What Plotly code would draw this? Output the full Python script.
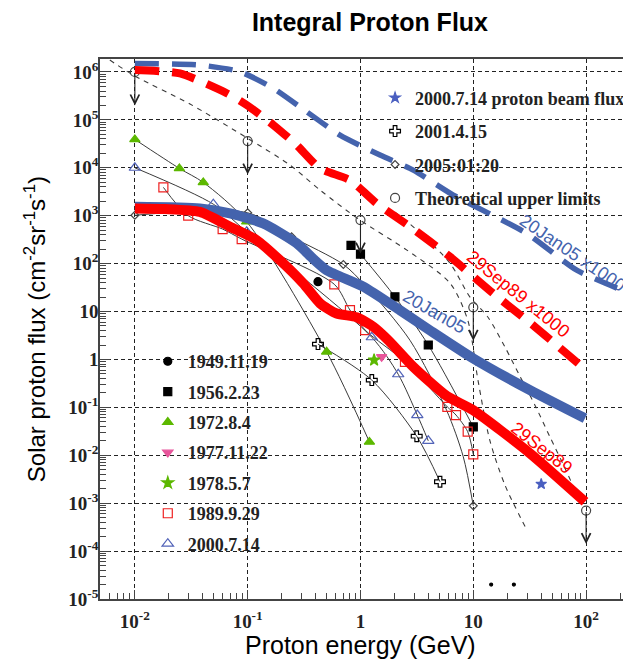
"""Integral proton flux chart rebuilt with plotly."""

import math

from plotly import graph_objects as go

# ---- data ------------------------------------------------------------------

# thick model curves
jan05_e = [0.01, 0.0377, 0.0697, 0.137, 0.272, 0.382, 0.501, 1.06, 2.24, 4.13, 10, 31.8, 97.8]
jan05_f = [1540, 1420, 1120, 690, 265, 125, 73, 33, 10.6, 4.05, 1.05, 0.229, 0.059]

sep89_e = [0.01, 0.0185, 0.0377, 0.0697, 0.12, 0.193, 0.311, 0.438, 0.615, 0.925,
           1.30, 1.80, 2.94, 5.85, 10, 31.8, 97.8]
sep89_f = [1420, 1380, 1200, 588, 310, 118, 38.6, 14.8, 9.1, 7.6,
           4.8, 2.4, 0.70, 0.171, 0.087, 0.011, 0.00107]

jan05x_e = [0.01, 0.0377, 0.0855, 0.169, 0.333, 0.658, 1.49, 2.94, 6.65, 29.7, 82.6, 245]
jan05x_f = [1.5e6, 1.39e6, 1.01e6, 4.55e5, 1.48e5, 4.8e4, 1.84e4, 8950, 2690, 427, 73, 23.9]

sep89x_e = [0.01, 0.0251, 0.0652, 0.098, 0.169, 0.272, 0.438, 0.807, 1.39, 2.75,
            6.21, 15.0, 35.2, 85.3]
sep89x_f = [1.1e6, 9.3e5, 3.6e5, 2.04e5, 7.8e4, 2.98e4, 9700, 5500, 1810, 590,
            139, 23.9, 4.8, 0.82]

# thin dashed curves
limit_curve_e = [0.006, 0.01, 0.0308, 0.0986, 0.237, 0.438, 0.99, 2.58, 6.21,
                 8.93, 11.0, 14.0, 19.1, 29.9]
limit_curve_f = [1.77e6, 8.2e5, 2.14e5, 4.2e4, 1.14e4, 3420, 810, 191, 39.2,
                 6.6, 0.37, 0.0207, 0.00238, 0.000273]

alt_curve_e = [2.02, 3.17, 6.21, 9.35, 13.5, 19.1, 25.9, 35.2, 47.9, 65.0, 84.7]
alt_curve_f = [1190, 500, 102, 20, 7.6, 1.81, 0.447, 0.111, 0.0239, 0.00538, 0.00134]

# theoretical upper limits
limit_e = [0.01, 0.1, 1, 10, 100]
limit_f = [1.0e6, 3.6e4, 810, 12.2, 7.0e-4]

# ground level events
ev1949_e = [0.42]
ev1949_f = [42]

ev1956_e = [0.824, 1.0, 2.02, 3.99, 10]
ev1956_f = [240, 158, 20.3, 2.0, 0.039]

ev1972_e = [0.01, 0.0248, 0.0404, 0.098, 0.501, 1.2]
ev1972_f = [3.9e4, 9700, 4950, 750, 1.44, 0.019]

ev1977_e = [1.54]
ev1977_f = [1.13]

ev1978_e = [1.32]
ev1978_f = [0.97]

ev1989_e = [0.0179, 0.0297, 0.06, 0.0885, 0.586, 0.807, 1.1, 2.48, 5.89, 7.03, 8.92, 10]
ev1989_f = [3900, 1000, 525, 325, 37, 10.7, 4.1, 0.89, 0.102, 0.069, 0.031, 0.0104]

ev2000_e = [0.01, 0.0496, 0.098, 1.26, 2.16, 3.19, 3.99]
ev2000_f = [1.0e4, 1740, 460, 2.9, 0.49, 0.069, 0.02]

beam2000_e = [40]
beam2000_f = [0.0025]

ev2001_e = [0.42, 1.26, 3.15, 5.07]
ev2001_f = [2.09, 0.37, 0.025, 0.0028]

ev2005_e = [0.01, 0.1, 0.245, 0.705, 10]
ev2005_f = [1020, 1150, 363, 96, 0.00088]

# fit line of 2005 event (extra points where the curve bends)
fit2005_e = [0.01, 0.1, 0.245, 0.705, 1.1, 2.75, 5.8, 8.15, 10]
fit2005_f = [1020, 1150, 363, 96, 35, 2.5, 0.087, 0.0093, 0.00088]

stray_e = [14.4, 22.9]
stray_f = [2.0e-5, 2.0e-5]

y_ticks = [1e-5, 1e-4, 1e-3, 1e-2, 1e-1, 1, 10, 1e2, 1e3, 1e4, 1e5, 1e6]
y_labels = ["10<sup>-5</sup>", "10<sup>-4</sup>", "10<sup>-3</sup>", "10<sup>-2</sup>",
            "10<sup>-1</sup>", "1", "10", "10<sup>2</sup>", "10<sup>3</sup>",
            "10<sup>4</sup>", "10<sup>5</sup>", "10<sup>6</sup>"]
x_ticks = [0.01, 0.1, 1, 10, 100]
x_labels = ["10<sup>-2</sup>", "10<sup>-1</sup>", "1", "10", "10<sup>2</sup>"]

# ---- styling ---------------------------------------------------------------

BLUE = "#4463ad"
RED = "#ff0000"
GREEN = "#5cb800"
THIN = "#3a3a3a"
SERIF = "Liberation Serif"
SANS = "Liberation Sans"

fig = go.Figure()


def thin_line(x, y, dash="solid", width=1.0):
    fig.add_trace(go.Scatter(
        x=x, y=y, mode="lines", showlegend=False, hoverinfo="skip",
        line=dict(color=THIN, width=width, dash=dash, shape="spline", smoothing=0.8),
    ))


def markers(x, y, name, symbol, color, size, legend="legend", show=True, lw=1.2):
    fig.add_trace(go.Scatter(
        x=x, y=y, mode="markers", name=name, legend=legend, legendgroup=name,
        showlegend=show,
        marker=dict(symbol=symbol, color=color, size=size,
                    line=dict(color=color, width=lw)),
    ))


# thin dashed model curves
thin_line(limit_curve_e, limit_curve_f, dash="5px,5px", width=1.1)
thin_line(alt_curve_e, alt_curve_f, dash="5px,5px", width=1.1)

# thin fit lines of the events
thin_line(ev1956_e[1:], ev1956_f[1:])
thin_line(ev1972_e, ev1972_f)
thin_line(ev1989_e, ev1989_f)
thin_line(ev2000_e, ev2000_f)
thin_line(ev2001_e, ev2001_f)
thin_line(fit2005_e, fit2005_f)

# upper limit arrows
for e, f in zip(limit_e, limit_f):
    fig.add_annotation(
        x=math.log10(e), y=math.log10(f / 5), ax=math.log10(e), ay=math.log10(f),
        xref="x", yref="y", axref="x", ayref="y", text="", showarrow=True,
        arrowhead=5, arrowsize=1.6, arrowwidth=1.1, arrowcolor="#222", standoff=0,
    )

# event markers (left legend)
markers(ev1949_e, ev1949_f, "1949.11.19", "circle", "black", 8)
markers(ev1956_e, ev1956_f, "1956.2.23", "square", "black", 8)
markers(ev1972_e, ev1972_f, "1972.8.4", "triangle-up", GREEN, 9)
markers(ev1977_e, ev1977_f, "1977.11.22", "triangle-down", "#e8559b", 9)
markers(ev1978_e, ev1978_f, "1978.5.7", "star", GREEN, 9)
markers(ev1989_e, ev1989_f, "1989.9.29", "square-open", "#ee2020", 9)
markers(ev2000_e, ev2000_f, "2000.7.14", "triangle-up-open", "#5263b8", 10)

# right legend
markers(beam2000_e, beam2000_f, "2000.7.14 proton beam flux", "star", "#4a5fc0", 8,
        legend="legend2")
markers(ev2001_e, ev2001_f, "2001.4.15", "cross-open", "black", 9, legend="legend2")
markers(ev2005_e, ev2005_f, "2005:01:20", "diamond-open", "#444", 6, legend="legend2")
markers(limit_e, limit_f, "Theoretical upper limits", "circle-open", "#444", 9,
        legend="legend2")

markers(stray_e, stray_f, "stray", "circle", "black", 3, show=False)

# thick curves
for xs, ys, color, dash, width in [
    (jan05x_e, jan05x_f, BLUE, "24px,13px", 5.5),
    (sep89x_e, sep89x_f, RED, "24px,13px", 8),
    (jan05_e, jan05_f, BLUE, "solid", 10),
    (sep89_e, sep89_f, RED, "solid", 10),
]:
    fig.add_trace(go.Scatter(
        x=xs, y=ys, mode="lines", showlegend=False, hoverinfo="skip",
        line=dict(color=color, width=width, dash=dash, shape="spline", smoothing=0.6),
    ))

# curve labels
for text, x, y, ang, color in [
    ("20Jan05 x1000", 76, 10 ** 2.22, 34, BLUE),
    ("29Sep89 x1000", 24.9, 10 ** 1.36, 39, RED),
    ("20Jan05", 4.57, 10 ** 1.0, 30, BLUE),
    ("29Sep89", 40.6, 10 ** -1.84, 38, RED),
]:
    fig.add_annotation(
        x=math.log10(x), y=math.log10(y), xref="x", yref="y", text=text,
        showarrow=False, textangle=ang,
        font=dict(family=SANS, size=18, color=color),
    )

# axis titles
fig.add_annotation(
    x=-0.122, y=0.5, xref="paper", yref="paper", xanchor="center", yanchor="middle",
    textangle=-90, showarrow=False,
    text="Solar proton flux (cm<sup>-2</sup>sr<sup>-1</sup>s<sup>-1</sup>)",
    font=dict(family=SANS, size=24, color="black"),
)
fig.add_annotation(
    x=0.49, y=-0.085, xref="paper", yref="paper", xanchor="center", yanchor="middle",
    showarrow=False,
    text="Proton energy (GeV)", font=dict(family=SANS, size=25, color="black"),
)

legend_font = dict(family=SERIF, size=18, color="#222", weight="bold")
tick_font = dict(family=SERIF, size=19, color="#222", weight="bold")

# the page body adds an 8px offset, so the figure is drawn 8px smaller
fig.update_layout(
    width=623,
    height=657,
    margin=dict(l=92, r=0, t=51, b=66),
    paper_bgcolor="white",
    plot_bgcolor="white",
    title=dict(
        text="<b>Integral Proton Flux</b>", x=0.581, xanchor="center",
        y=0.979, yanchor="middle", font=dict(family=SANS, size=25, color="black"),
    ),
    legend=dict(
        x=0.09, y=0.474, xanchor="left", yanchor="top", bgcolor="rgba(0,0,0,0)",
        font=legend_font, tracegroupgap=4, itemsizing="trace",
    ),
    legend2=dict(
        x=0.518, y=0.962, xanchor="left", yanchor="top", bgcolor="rgba(0,0,0,0)",
        font=legend_font, tracegroupgap=7, itemsizing="trace",
    ),
    xaxis=dict(
        type="log", range=[-2.309, 2.398], tickvals=x_ticks, ticktext=x_labels,
        tickfont=tick_font, ticklabelstandoff=4,
        showline=True, linecolor="#444", linewidth=1.5, mirror=True,
        ticks="inside", ticklen=9, tickcolor="#444",
        showgrid=True, gridcolor="#222", gridwidth=1.1, griddash="4px,3px",
        minor=dict(dtick="D1", ticks="inside", ticklen=6, tickcolor="#444",
                   showgrid=False),
        zeroline=False,
    ),
    yaxis=dict(
        type="log", range=[-5.0, 6.27], tickvals=y_ticks, ticktext=y_labels,
        tickfont=tick_font, ticklabelstandoff=-4,
        showline=True, linecolor="#444", linewidth=1.5,
        ticks="inside", ticklen=10, tickcolor="#444",
        showgrid=True, gridcolor="#222", gridwidth=1.1, griddash="4px,3px",
        minor=dict(dtick="D1", ticks="inside", ticklen=6, tickcolor="#444",
                   showgrid=False),
        zeroline=False,
    ),
)

fig.write_html("out.html")
